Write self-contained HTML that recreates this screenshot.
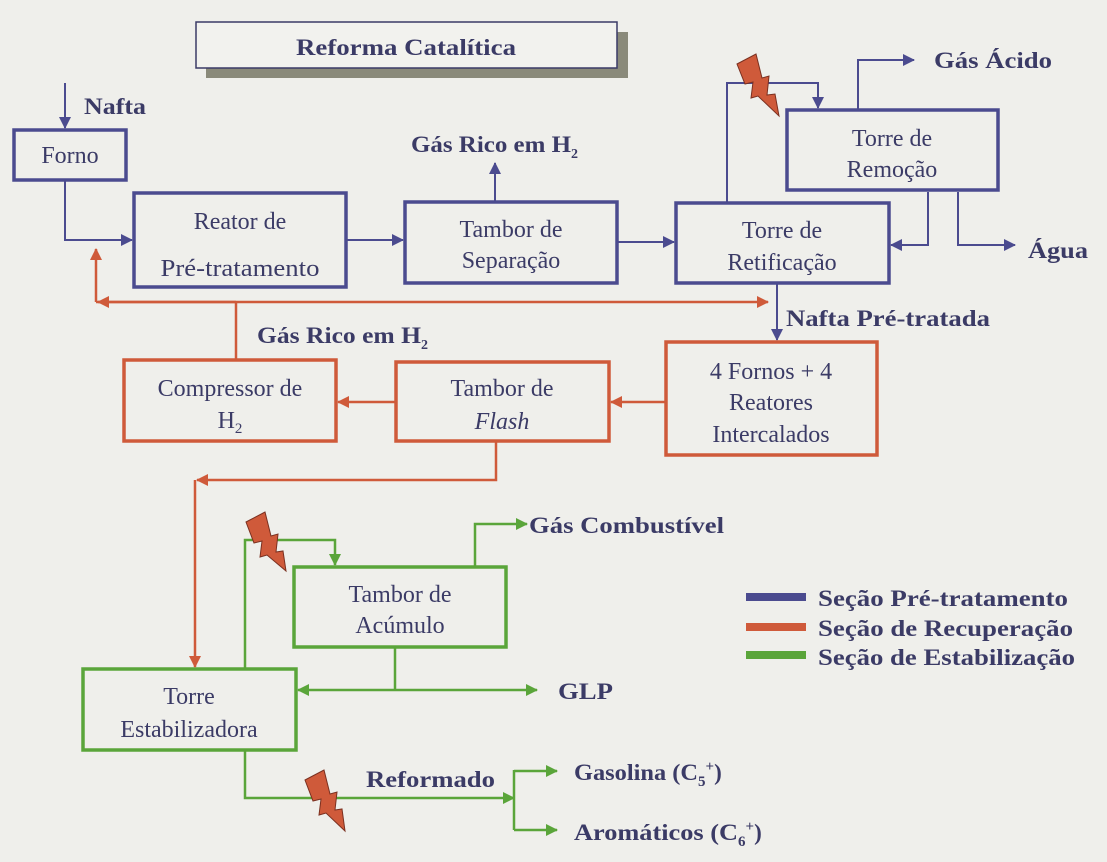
<!DOCTYPE html>
<html><head><meta charset="utf-8"><style>
html,body{margin:0;padding:0;background:#efefeb;}
svg{display:block;}
text{font-family:"Liberation Serif",serif;fill:#3b3b66;}
.b{font-size:24px;text-anchor:middle;}
.l{font-size:23px;font-weight:bold;}
</style></head><body>
<svg width="1107" height="862" viewBox="0 0 1107 862" xmlns="http://www.w3.org/2000/svg">
<defs>
<marker id="ab" markerWidth="12" markerHeight="12" refX="11" refY="6" orient="auto" markerUnits="userSpaceOnUse" viewBox="0 0 12 12"><path d="M0,0 L12,6 L0,12 z" fill="#4b4b8f"/></marker>
<marker id="ar" markerWidth="12" markerHeight="12" refX="11" refY="6" orient="auto" markerUnits="userSpaceOnUse" viewBox="0 0 12 12"><path d="M0,0 L12,6 L0,12 z" fill="#cf5a3a"/></marker>
<marker id="ag" markerWidth="12" markerHeight="12" refX="11" refY="6" orient="auto" markerUnits="userSpaceOnUse" viewBox="0 0 12 12"><path d="M0,0 L12,6 L0,12 z" fill="#5aa53a"/></marker>
</defs>
<rect width="1107" height="862" fill="#efefeb"/>
<!-- title -->
<rect x="206" y="68" width="422" height="10" fill="#8a8a7a"/>
<rect x="617" y="32" width="11" height="46" fill="#8a8a7a"/>
<rect x="196" y="22" width="421" height="46" fill="#f2f2ee" stroke="#3b3b66" stroke-width="1.5"/>
<text x="406" y="55" class="l" text-anchor="middle" textLength="220" lengthAdjust="spacingAndGlyphs">Reforma Catalítica</text>

<g fill="none" stroke="#4b4b8f" stroke-width="3.5">
<rect x="14" y="130" width="112" height="50"/>
<rect x="134" y="193" width="212" height="94"/>
<rect x="405" y="202" width="212" height="81"/>
<rect x="676" y="203" width="213" height="80"/>
<rect x="787" y="110" width="211" height="80"/>
</g>
<g fill="none" stroke="#4b4b8f" stroke-width="2">
<path d="M65 83 V128" marker-end="url(#ab)"/>
<path d="M65 180 V240 H132" marker-end="url(#ab)"/>
<path d="M346 240 H403" marker-end="url(#ab)"/>
<path d="M495 202 V163" marker-end="url(#ab)"/>
<path d="M617 242 H674" marker-end="url(#ab)"/>
<path d="M727 203 V83 H818 V108" marker-end="url(#ab)"/>
<path d="M858 110 V60 H914" marker-end="url(#ab)"/>
<path d="M928 192 V245 H891" marker-end="url(#ab)"/>
<path d="M958 192 V245 H1015" marker-end="url(#ab)"/>
<path d="M777 283 V340" marker-end="url(#ab)"/>
</g>
<g fill="none" stroke="#cf5a3a" stroke-width="3.5">
<rect x="666" y="342" width="211" height="113"/>
<rect x="124" y="360" width="212" height="81"/>
<rect x="396" y="362" width="213" height="79"/>
</g>
<g fill="none" stroke="#5aa53a" stroke-width="3.5">
<rect x="83" y="669" width="213" height="81"/>
<rect x="294" y="567" width="212" height="80"/>
</g>
<g fill="none" stroke="#cf5a3a" stroke-width="2.5">
<path d="M96 302 V249" marker-end="url(#ar)"/>
<path d="M236 302 H98" marker-end="url(#ar)"/>
<path d="M96 302 H768" marker-end="url(#ar)"/>
<path d="M236 360 V302"/>
<path d="M666 402 H611" marker-end="url(#ar)"/>
<path d="M396 402 H338" marker-end="url(#ar)"/>
<path d="M496 441 V480 H197" marker-end="url(#ar)"/>
<path d="M195 480 V667" marker-end="url(#ar)"/>
</g>
<g fill="none" stroke="#5aa53a" stroke-width="2.5">
<path d="M245 669 V540 H335 V565" marker-end="url(#ag)"/>
<path d="M475 567 V524 H527" marker-end="url(#ag)"/>
<path d="M395 647 V690"/>
<path d="M395 690 H298" marker-end="url(#ag)"/>
<path d="M395 690 H537" marker-end="url(#ag)"/>
<path d="M245 750 V798 H514" marker-end="url(#ag)"/>
<path d="M514 770 V830"/>
<path d="M514 771 H557" marker-end="url(#ag)"/>
<path d="M514 830 H557" marker-end="url(#ag)"/>
</g>
<!-- lightning -->
<g fill="#cf5a3a" stroke="#7a3020" stroke-width="1">
<path d="M737 64 L756 54 L762 78 L769 76 L767 95 L775 94 L779 116 L758 96 L751 98 L753 82 L745 84 Z"/>
<path d="M246 522 L265 512 L271 536 L278 534 L276 552 L283 551 L286 571 L267 555 L260 557 L262 541 L254 543 Z"/>
<path d="M305 780 L324 770 L330 794 L337 792 L335 810 L342 809 L345 831 L326 813 L319 815 L321 799 L313 801 Z"/>
</g>
<!-- box text -->
<text x="70" y="163" class="b">Forno</text>
<text x="240" y="229" class="b">Reator de</text>
<text x="240" y="276" class="b" textLength="159" lengthAdjust="spacingAndGlyphs">Pré-tratamento</text>
<text x="511" y="237" class="b">Tambor de</text>
<text x="511" y="268" class="b">Separação</text>
<text x="782" y="238" class="b">Torre de</text>
<text x="782" y="270" class="b">Retificação</text>
<text x="892" y="146" class="b">Torre de</text>
<text x="892" y="177" class="b">Remoção</text>
<text x="771" y="379" class="b">4 Fornos + 4</text>
<text x="771" y="410" class="b">Reatores</text>
<text x="771" y="442" class="b">Intercalados</text>
<text x="230" y="396" class="b">Compressor de</text>
<text x="230" y="428" class="b">H<tspan font-size="15" dy="5">2</tspan></text>
<text x="502" y="396" class="b">Tambor de</text>
<text x="502" y="429" class="b" font-style="italic">Flash</text>
<text x="400" y="602" class="b">Tambor de</text>
<text x="400" y="633" class="b">Acúmulo</text>
<text x="189" y="704" class="b">Torre</text>
<text x="189" y="737" class="b">Estabilizadora</text>
<!-- labels -->
<text x="84" y="114" class="l" textLength="62" lengthAdjust="spacingAndGlyphs">Nafta</text>
<text x="411" y="152" class="l"><tspan textLength="160" lengthAdjust="spacingAndGlyphs">Gás Rico em H</tspan><tspan font-size="14" dy="6">2</tspan></text>
<text x="257" y="343" class="l"><tspan textLength="164" lengthAdjust="spacingAndGlyphs">Gás Rico em H</tspan><tspan font-size="14" dy="6">2</tspan></text>
<text x="934" y="68" class="l" textLength="118" lengthAdjust="spacingAndGlyphs">Gás Ácido</text>
<text x="1028" y="258" class="l" textLength="60" lengthAdjust="spacingAndGlyphs">Água</text>
<text x="786" y="326" class="l" textLength="204" lengthAdjust="spacingAndGlyphs">Nafta Pré-tratada</text>
<text x="529" y="533" class="l" textLength="195" lengthAdjust="spacingAndGlyphs">Gás Combustível</text>
<text x="558" y="699" class="l" textLength="55" lengthAdjust="spacingAndGlyphs">GLP</text>
<text x="366" y="787" class="l" textLength="129" lengthAdjust="spacingAndGlyphs">Reformado</text>
<text x="574" y="780" class="l"><tspan textLength="124" lengthAdjust="spacingAndGlyphs">Gasolina (C</tspan><tspan font-size="15" dy="6">5</tspan><tspan font-size="15" dy="-15">+</tspan><tspan dy="9">)</tspan></text>
<text x="574" y="840" class="l"><tspan textLength="164" lengthAdjust="spacingAndGlyphs">Aromáticos  (C</tspan><tspan font-size="15" dy="6">6</tspan><tspan font-size="15" dy="-15">+</tspan><tspan dy="9">)</tspan></text>
<!-- legend -->
<rect x="746" y="593" width="60" height="8" fill="#4b4b8f"/>
<rect x="746" y="623" width="60" height="8" fill="#cf5a3a"/>
<rect x="746" y="651" width="60" height="8" fill="#5aa53a"/>
<text x="818" y="606" class="l" textLength="250" lengthAdjust="spacingAndGlyphs">Seção Pré-tratamento</text>
<text x="818" y="636" class="l" textLength="255" lengthAdjust="spacingAndGlyphs">Seção de Recuperação</text>
<text x="818" y="665" class="l" textLength="257" lengthAdjust="spacingAndGlyphs">Seção de Estabilização</text>
</svg>
</body></html>
